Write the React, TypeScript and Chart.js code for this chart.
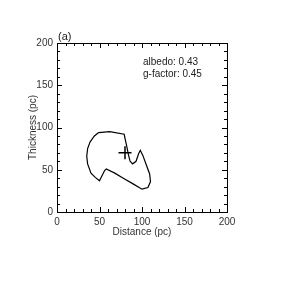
import React, { useEffect, useRef } from "react";
import { Chart, registerables } from "chart.js";

Chart.register(...registerables);

const contourX = [49, 62, 79, 82, 84, 86, 89, 93, 96, 98, 101, 105, 109, 110, 107, 100, 90, 78, 68, 58, 56, 50, 45, 40, 36, 35, 36, 39, 44, 49];
const contourY = [94, 95, 92, 78, 68, 60, 57, 60, 69, 73, 67, 56, 45, 36, 29, 27, 33, 40, 46, 51, 49, 37, 41, 46, 57, 66, 75, 83, 90, 94];
const bestX = [80];
const bestY = [70];
const xTicks = [0, 50, 100, 150, 200];
const yTicks = [0, 50, 100, 150, 200];
const minorStep = 10;
const panelLabel = "(a)";
const infoLines = ["albedo: 0.43", "g-factor: 0.45"];
const xTitle = "Distance (pc)";
const yTitle = "Thickness (pc)";

const FONT = "'Liberation Sans', 'DejaVu Sans', sans-serif";

const framePlugin = {
  id: "frame",
  afterDraw(chart: any) {
    const { ctx, chartArea: a, scales } = chart;
    const xs = scales.x;
    const ys = scales.y;
    ctx.save();
    ctx.strokeStyle = "#000";
    ctx.lineWidth = 1;
    ctx.strokeRect(Math.round(a.left) + 0.5, Math.round(a.top) + 0.5, Math.round(a.right - a.left), Math.round(a.bottom - a.top));
    ctx.beginPath();
    for (let v = 0; v <= 200; v += minorStep) {
      const major = xTicks.includes(v);
      const len = major ? 5 : 3;
      const px = Math.round(xs.getPixelForValue(v)) + 0.5;
      ctx.moveTo(px, a.bottom);
      ctx.lineTo(px, a.bottom - len);
      ctx.moveTo(px, a.top);
      ctx.lineTo(px, a.top + len);
      const py = Math.round(ys.getPixelForValue(v)) + 0.5;
      const lenY = yTicks.includes(v) ? 5 : 3;
      ctx.moveTo(a.left, py);
      ctx.lineTo(a.left + lenY, py);
      ctx.moveTo(a.right, py);
      ctx.lineTo(a.right - lenY, py);
    }
    ctx.stroke();
    ctx.fillStyle = "#222";
    ctx.font = `11px ${FONT}`;
    ctx.textBaseline = "bottom";
    ctx.textAlign = "left";
    ctx.fillText(panelLabel, a.left + 1, a.top - 1);
    ctx.font = `10px ${FONT}`;
    ctx.textBaseline = "middle";
    infoLines.forEach((t, i) => {
      ctx.fillText(t, xs.getPixelForValue(100) + 1, ys.getPixelForValue(177) + i * 12);
    });
    ctx.restore();
  },
};

export default function App() {
  const ref = useRef<HTMLCanvasElement>(null);
  useEffect(() => {
    document.body.style.margin = "0";
    const contour = contourX.map((x, i) => ({ x, y: contourY[i] }));
    const best = bestX.map((x, i) => ({ x, y: bestY[i] }));
    const chart = new Chart(ref.current!, {
      type: "scatter",
      data: {
        datasets: [
          {
            data: contour,
            showLine: true,
            borderColor: "#000",
            borderWidth: 1.2,
            pointRadius: 0,
            tension: 0,
          },
          {
            data: best,
            pointStyle: "cross",
            pointRadius: 6.5,
            borderColor: "#000",
            borderWidth: 1.5,
          },
        ],
      },
      options: {
        animation: false,
        responsive: false,
        devicePixelRatio: 1,
        layout: { padding: { left: 27, top: 43, right: 57, bottom: 46 } },
        plugins: { legend: { display: false }, tooltip: { enabled: false } },
        scales: {
          x: {
            type: "linear",
            min: 0,
            max: 200,
            afterFit: (s: any) => { s.height = 26; },
            afterBuildTicks: (s: any) => { s.ticks = xTicks.map((v) => ({ value: v })); },
            grid: { display: false, drawTicks: false },
            border: { display: false },
            ticks: { color: "#333", font: { family: FONT, size: 10 }, padding: 4, maxRotation: 0 },
            title: { display: true, text: xTitle, color: "#333", font: { family: FONT, size: 10 }, padding: 0 },
          },
          y: {
            type: "linear",
            min: 0,
            max: 200,
            afterFit: (s: any) => { s.width = 30; },
            afterBuildTicks: (s: any) => { s.ticks = yTicks.map((v) => ({ value: v })); },
            grid: { display: false, drawTicks: false },
            border: { display: false },
            ticks: { color: "#333", font: { family: FONT, size: 10 }, padding: 4 },
            title: { display: true, text: yTitle, color: "#333", font: { family: FONT, size: 10 }, padding: 0 },
          },
        },
      },
      plugins: [framePlugin],
    });
    return () => chart.destroy();
  }, []);
  return (
    <div style={{ width: 284, height: 284 }}>
      <canvas ref={ref} width={284} height={284} style={{ display: "block", width: 284, height: 284 }} />
    </div>
  );
}
